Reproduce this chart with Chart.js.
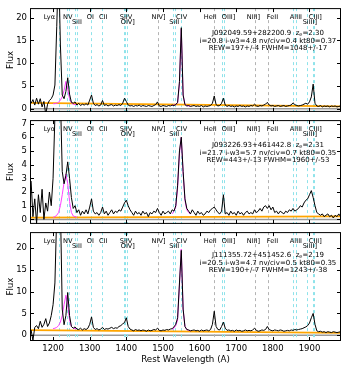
<!DOCTYPE html>
<html>
<head>
<meta charset="utf-8">
<script src="https://cdn.jsdelivr.net/npm/chart.js@4.4.0/dist/chart.umd.min.js"></script>
<style>
  body { margin: 0; background: #fff; }
  #wrap { position: relative; width: 346px; height: 370px; }
  canvas { position: absolute; left: 0; }
</style>
</head>
<body>
<div id="wrap">
  <canvas id="c1" width="346" height="120" style="top:0px"></canvas>
  <canvas id="c2" width="346" height="120" style="top:112px"></canvas>
  <canvas id="c3" width="346" height="146" style="top:224px"></canvas>
</div>
<script>
// rest wavelength grid (A)
const wave = [
  1140,1145,1150,1155,1160,1165,1170,1175,1180,1185,
  1190,1195,1200,1205,1210,1215,1220,1225,1230,1235,
  1240,1245,1250,1255,1260,1265,1270,1275,1280,1285,
  1290,1295,1300,1305,1310,1315,1320,1325,1330,1335,
  1340,1345,1350,1355,1360,1365,1370,1375,1380,1385,
  1390,1395,1400,1405,1410,1415,1420,1425,1430,1435,
  1440,1445,1450,1455,1460,1465,1470,1475,1480,1485,
  1490,1495,1500,1505,1510,1515,1520,1525,1530,1535,
  1540,1545,1550,1555,1560,1565,1570,1575,1580,1585,
  1590,1595,1600,1605,1610,1615,1620,1625,1630,1635,
  1640,1645,1650,1655,1660,1665,1670,1675,1680,1685,
  1690,1695,1700,1705,1710,1715,1720,1725,1730,1735,
  1740,1745,1750,1755,1760,1765,1770,1775,1780,1785,
  1790,1795,1800,1805,1810,1815,1820,1825,1830,1835,
  1840,1845,1850,1855,1860,1865,1870,1875,1880,1885,
  1890,1895,1900,1905,1910,1915,1920,1925,1930,1935,
  1940,1945,1950,1955,1960,1965,1970,1975,1980,1985
];

// J092049.59+282200.9
const flux1 = [
  1.2, 2.0, 0.8, 2.3, 1.0, 2.2, 0.4, 1.6, -1.2, 1.0,
  1.8, 2.2, 3.0, 5.2, 18, 32, 14, 3.0, 2.2, 3.8,
  6.8, 3.2, 1.4, 1.2, 1.5, 0.8, 1.2, 0.7, 1.0, 0.8,
  1.1, 0.8, 1.9, 3.0, 1.2, 0.7, 0.9, 0.6, 0.8, 1.8,
  0.7, 0.9, 0.6, 0.8, 0.9, 0.6, 0.8, 0.7, 0.9, 0.7,
  1.2, 2.3, 1.6, 0.8, 0.6, 0.7, 0.5, 0.7, 0.6, 0.8,
  0.5, 0.7, 0.6, 0.5, 0.7, 0.6, 0.5, 0.7, 0.9, 1.5,
  0.6, 0.5, 0.7, 0.6, 0.5, 0.7, 0.6, 0.8, 0.7, 0.9,
  1.4, 6.0, 17.8, 3.0, 0.9, 0.6, 0.7, 0.5, 0.6, 0.7,
  0.5, 0.6, 0.5, 0.7, 0.4, 0.6, 0.5, 0.6, 0.7, 1.2,
  2.8, 0.9, 0.6, 0.7, 1.2, 2.3, 0.8, 0.5, 0.7, 0.5,
  0.6, 0.4, 0.6, 0.5, 0.7, 0.5, 0.6, 0.4, 0.6, 0.5,
  0.7, 0.6, 1.0, 0.6, 0.5, 0.7, 0.6, 0.8, 1.0, 1.4,
  0.8, 0.6, 0.7, 0.5, 0.6, 0.7, 0.5, 0.6, 0.7, 0.5,
  0.6, 0.7, 0.8, 1.3, 0.9, 0.7, 0.6, 0.7, 0.8, 1.0,
  1.2, 1.0, 1.5, 2.6, 5.4, 1.2, 0.6, 0.5, 0.7, 0.4,
  0.6, 0.5, 0.6, 0.4, 0.6, 0.5, 0.6, 0.4, 0.5, 0.6
];

// J093226.93+461442.8
const flux2 = [
  2.8, 0.2, 1.5, -0.3, 1.8, 0.5, 2.2, 0.0, 1.2, 0.6,
  2.0, 1.0, 3.0, 7.5, 15, 20, 9.0, 3.5, 2.6, 3.2,
  4.2, 3.0, 1.6, 0.8, 1.0, 0.5, 0.7, 0.3, 0.6, 0.4,
  0.7, 0.4, 0.9, 1.5, 0.6, 0.4, 0.5, 0.3, 0.5, 0.9,
  0.4, 0.6, 0.3, 0.5, 0.7, 0.4, 0.6, 0.5, 0.7, 0.6,
  0.9, 1.2, 1.4, 1.0, 0.7, 0.5, 0.3, 0.6, 0.4, 0.5,
  0.3, 0.6, 0.4, 0.5, 0.2, 0.5, 0.4, 0.6, 0.5, 0.8,
  0.5, 0.3, 0.6, 0.4, 0.5, 0.6, 0.4, 0.7, 0.6, 1.0,
  2.5, 5.0, 6.0, 3.5, 1.5, 0.8, 0.6, 0.4, 0.7, 0.5,
  0.3, 0.6, 0.4, 0.5, 0.3, 0.4, 0.6, 0.5, 0.7, 0.8,
  0.9, 0.7, 0.5, 0.4, 0.6, 1.8, 0.4, 0.5, 0.3, 0.6,
  0.4, 0.5, 0.3, 0.6, 0.4, 0.5, 0.3, 0.5, 0.6, 0.4,
  0.5, 0.4, 0.7, 0.5, 0.6, 0.8, 0.6, 0.9, 1.0, 0.8,
  1.0, 0.7, 0.9, 0.5, 0.6, 0.4, 0.6, 0.5, 0.4, 0.6,
  0.5, 0.7, 0.6, 0.8, 0.6, 0.7, 0.8, 1.0, 0.9, 1.2,
  1.4, 1.5, 1.8, 2.1, 1.6, 1.0, 0.5, 0.4, 0.3, 0.4,
  0.2, 0.3, 0.4, 0.2, 0.3, 0.1, 0.3, 0.2, 0.4, 0.2
];

// J111355.72+451452.6
const flux3 = [
  1.2, -1.2, 1.8, 2.2, 1.5, 3.2, 1.8, 2.5, 3.8, 2.0,
  2.8, 4.5, 7.0, 12, 28, 35, 30, 6.0, 2.4, 4.5,
  9.8, 4.5, 2.0, 1.6, 1.9, 1.4, 1.3, 1.6, 1.2, 1.5,
  1.3, 1.6, 2.5, 4.2, 1.8, 1.3, 1.5, 1.2, 1.4, 1.8,
  1.3, 1.5, 1.4, 1.6, 1.8, 1.5, 1.7, 1.6, 2.0, 2.2,
  2.6, 2.9, 4.0, 2.0, 1.4, 1.2, 1.0, 1.3, 1.1, 1.2,
  1.0, 1.2, 1.1, 0.9, 1.2, 1.0, 1.1, 1.3, 1.2, 1.6,
  1.1, 1.0, 1.2, 1.1, 1.3, 1.2, 1.4, 1.5, 1.9, 2.5,
  4.0, 12, 19.5, 6.0, 2.0, 1.3, 1.2, 1.0, 1.1, 1.2,
  1.0, 1.1, 0.9, 1.2, 1.0, 1.1, 1.2, 1.0, 1.3, 2.5,
  5.5, 2.0, 1.3, 1.2, 2.0, 3.0, 1.6, 1.1, 1.2, 1.0,
  1.1, 0.9, 1.2, 1.0, 1.1, 0.9, 1.0, 1.2, 1.0, 1.1,
  1.0, 1.2, 1.6, 1.1, 0.9, 1.0, 1.2, 1.1, 1.3, 2.0,
  1.3, 1.1, 1.0, 1.2, 1.1, 1.0, 1.2, 1.1, 0.9, 1.0,
  1.1, 1.0, 1.2, 1.1, 1.3, 1.2, 1.3, 1.4, 1.5, 1.7,
  1.9, 2.2, 2.8, 4.0, 5.0, 2.5, 1.0, 0.8, 0.9, 0.7,
  0.8, 0.6, 0.8, 0.7, 0.6, 0.8, 0.7, 0.6, 0.7, 0.8
];

// emission line model (magenta)
const nvWave = [1200,1205,1210,1215,1220,1225,1230,1235,1240,1245,1250,1255,1260,1265];
const nvModel1 = [1.1, 1.1, 1.2, 1.4, 1.9, 2.6, 4.0, 6.0, 4.2, 2.2, 1.3, 1.0, 0.9, 0.9];
const nvModel2 = [0.15, 0.2, 0.3, 0.5, 1.0, 1.8, 2.7, 3.3, 2.6, 1.3, 0.5, 0.25, 0.2, 0.15];
const nvModel3 = [1.5, 1.6, 1.8, 2.2, 3.0, 4.5, 7.0, 9.2, 7.0, 3.5, 2.0, 1.6, 1.5, 1.5];
const civWave = [1525,1530,1535,1540,1545,1550,1555,1560,1565,1570,1575];
const civModel1 = [0.7, 0.8, 0.9, 1.3, 5.5, 17.5, 3.0, 1.0, 0.7, 0.6, 0.6];
const civModel2 = [0.4, 0.6, 0.9, 2.3, 4.8, 6.0, 3.4, 1.4, 0.7, 0.5, 0.4];
const civModel3 = [1.3, 1.6, 2.2, 3.5, 11.5, 19.8, 6.0, 2.0, 1.3, 1.1, 1.0];

// continuum (orange)
const contWave = [1137, 1986];
const cont1 = [1.3, 0.5];
const cont2 = [0.13, 0.22];
const cont3 = [1.15, 0.55];

// line markers
const markWaves = [1215.7, 1238.8, 1242.8, 1260.4, 1264.7, 1302.2, 1334.5, 1393.8, 1397.2, 1402.8,
  1486.5, 1526.7, 1533.4, 1549.1, 1640.4, 1660.8, 1666.1, 1750.0, 1787.0, 1854.7, 1862.8, 1892.0, 1908.7, 1913.0];
const grayMarks = [1486.5, 1640.4, 1750.0, 1787.0];
const lineNames = ['Ly\u03b1', 'NV', 'SiII', 'OI', 'CII', 'SiIV', 'OIV]', 'NIV]', 'SiII', 'CIV',
  'HeII', 'OIII]', 'NIII]', 'FeII', 'AlIII', 'SiIII]', 'CIII]'];
const labelWaves = [1190, 1240, 1265, 1302, 1337, 1399, 1404, 1488, 1531, 1551,
  1629, 1679, 1747, 1799, 1863, 1901, 1916];
const labelRows = [0, 0, 1, 0, 0, 0, 1, 0, 1, 0, 0, 0, 0, 0, 0, 1, 0];

const FONT = '"DejaVu Sans", sans-serif';

const decor = {
  id: 'decor',
  beforeDatasetsDraw(chart) {
    const { ctx, chartArea: a, scales: { x, y } } = chart;
    ctx.save();
    ctx.beginPath(); ctx.rect(a.left, a.top, a.width, a.height); ctx.clip();
    // zero line
    const y0 = y.getPixelForValue(0);
    ctx.strokeStyle = '#9a9a9a'; ctx.lineWidth = 1.5;
    ctx.beginPath(); ctx.moveTo(a.left, y0); ctx.lineTo(a.right, y0); ctx.stroke();
    // dashed line markers
    ctx.lineWidth = 1; ctx.setLineDash([3, 3]);
    markWaves.forEach(w => {
      const px = Math.round(x.getPixelForValue(w)) + 0.5;
      ctx.strokeStyle = grayMarks.includes(w) ? '#b4b4b4' : '#8fe3ea';
      ctx.beginPath(); ctx.moveTo(px, a.top); ctx.lineTo(px, a.bottom); ctx.stroke();
    });
    ctx.restore();
  },
  afterDatasetsDraw(chart, args, opts) {
    const { ctx, chartArea: a, scales: { x, y } } = chart;
    ctx.save();
    // frame
    ctx.strokeStyle = '#000'; ctx.lineWidth = 1;
    ctx.strokeRect(a.left + 0.5, a.top + 0.5, a.width - 1, a.height - 1);
    // inner ticks
    ctx.beginPath();
    x.ticks.forEach(t => {
      const px = Math.round(x.getPixelForValue(t.value)) + 0.5;
      ctx.moveTo(px, a.bottom); ctx.lineTo(px, a.bottom - 4);
      ctx.moveTo(px, a.top); ctx.lineTo(px, a.top + 4);
    });
    y.ticks.forEach(t => {
      const py = Math.round(y.getPixelForValue(t.value)) + 0.5;
      ctx.moveTo(a.left, py); ctx.lineTo(a.left + 4, py);
      ctx.moveTo(a.right, py); ctx.lineTo(a.right - 4, py);
    });
    ctx.stroke();
    // line labels
    ctx.fillStyle = '#000';
    ctx.font = '6.6px ' + FONT;
    ctx.textAlign = 'center'; ctx.textBaseline = 'middle';
    lineNames.forEach((n, i) => {
      ctx.fillText(n, x.getPixelForValue(labelWaves[i]), a.top + (labelRows[i] ? 14 : 9));
    });
    // object info
    const cx = a.left + a.width * 0.765;
    const ty = a.top + opts.textTop;
    const p1 = opts.name + '  z', p2 = '=' + opts.z;
    ctx.font = '7px ' + FONT;
    const w1 = ctx.measureText(p1).width, w2 = ctx.measureText(p2).width;
    ctx.font = '5px ' + FONT;
    const ws = ctx.measureText('e').width;
    const sx = cx - (w1 + ws + w2) / 2;
    ctx.textAlign = 'left';
    ctx.font = '7px ' + FONT;
    ctx.fillText(p1, sx, ty);
    ctx.font = '5px ' + FONT;
    ctx.fillText('e', sx + w1, ty + 2);
    ctx.font = '7px ' + FONT;
    ctx.fillText(p2, sx + w1 + ws, ty);
    ctx.textAlign = 'center';
    ctx.fillText(opts.line2, cx, ty + 8);
    ctx.fillText(opts.line3, cx, ty + 15.5);
    ctx.restore();
  }
};

function panel(id, flux, nvModel, civModel, cont, yMin, yMax, yStep, pad, info, bottom) {
  return new Chart(document.getElementById(id), {
    type: 'line',
    data: {
      datasets: [
        { data: wave.map((w, i) => ({ x: w, y: flux[i] })), borderColor: '#000', borderWidth: 1 },
        { data: nvWave.map((w, i) => ({ x: w, y: nvModel[i] })), borderColor: '#ff40ff', borderWidth: 1 },
        { data: civWave.map((w, i) => ({ x: w, y: civModel[i] })), borderColor: '#ff40ff', borderWidth: 1 },
        { data: contWave.map((w, i) => ({ x: w, y: cont[i] })), borderColor: '#ffa500', borderWidth: 1.8 }
      ]
    },
    options: {
      responsive: false,
      animation: false,
      events: [],
      layout: { padding: pad },
      elements: { point: { radius: 0 }, line: { tension: 0 } },
      plugins: { legend: { display: false }, tooltip: { enabled: false }, decor: info },
      scales: {
        x: {
          type: 'linear', min: 1137, max: 1986,
          grid: { display: false, drawTicks: false }, border: { display: false },
          ticks: { display: bottom, stepSize: 100, includeBounds: false, padding: 3, maxRotation: 0,
                   color: '#000', font: { family: FONT, size: 8.5 }, callback: v => String(v) },
          title: { display: bottom, text: 'Rest Wavelength (A)', color: '#000',
                   font: { family: FONT, size: 8.7 }, padding: { top: 0, bottom: 5 } },
          afterFit: s => { s.height = bottom ? 29 : 0; }
        },
        y: {
          min: yMin, max: yMax,
          grid: { display: false, drawTicks: false }, border: { display: false },
          ticks: { stepSize: yStep, includeBounds: false, padding: 3, color: '#000',
                   font: { family: FONT, size: 8.5 } },
          title: { display: true, text: 'Flux', color: '#000',
                   font: { family: FONT, size: 8.7 }, padding: { top: 6, bottom: 0 } },
          afterFit: s => { s.width = 30; }
        }
      }
    },
    plugins: [decor]
  });
}

panel('c1', flux1, nvModel1, civModel1, cont1, -0.7, 22.1, 5,
  { top: 4, right: 5, bottom: 4, left: 0 },
  { name: 'J092049.59+282200.9', z: '2.30', line2: 'i=20.8 i-w3=4.8 nv/civ=0.4 kt80=0.37',
    line3: 'REW=197+/-4 FWHM=1048+/-17', textTop: 25 }, false);
panel('c2', flux2, nvModel2, civModel2, cont2, -0.33, 7.25, 1,
  { top: 4, right: 5, bottom: 4, left: 0 },
  { name: 'J093226.93+461442.8', z: '2.31', line2: 'i=21.7 i-w3=5.7 nv/civ=0.7 kt80=0.35',
    line3: 'REW=443+/-13 FWHM=1960+/-53', textTop: 25 }, false);
panel('c3', flux3, nvModel3, civModel3, cont3, -1.34, 23.7, 5,
  { top: 4, right: 5, bottom: 0, left: 0 },
  { name: 'J111355.72+451452.6', z: '2.19', line2: 'i=20.5 i-w3=4.7 nv/civ=0.5 kt80=0.35',
    line3: 'REW=190+/-7 FWHM=1243+/-38', textTop: 23 }, true);
</script>
</body>
</html>
